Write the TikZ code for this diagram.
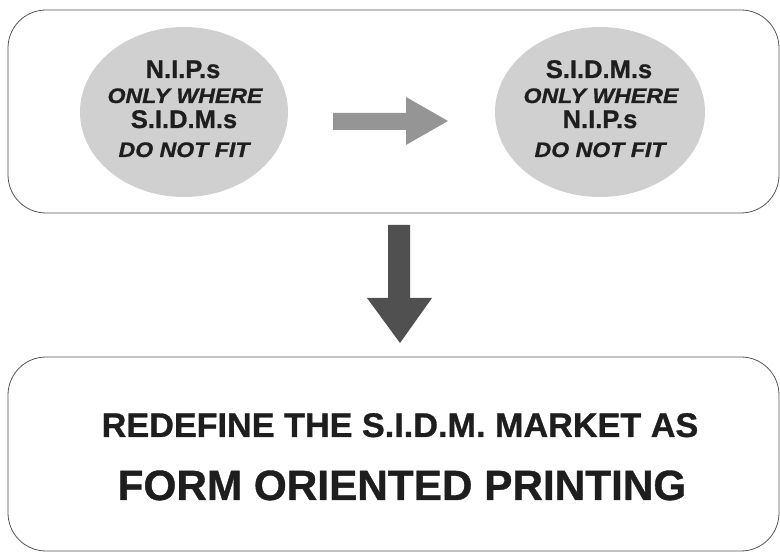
\documentclass[tikz,border=0pt]{standalone}
\usepackage{fontspec}
\setmainfont{Liberation Sans}[BoldFeatures={FakeBold=0.9},BoldItalicFeatures={FakeBold=0.9}]
\usetikzlibrary{shapes.geometric}
\definecolor{ink}{HTML}{1E1E1E}
\definecolor{frame}{HTML}{555555}
\definecolor{ellfill}{HTML}{D0D0D0}
\definecolor{harrow}{HTML}{959595}
\definecolor{varrow}{HTML}{505050}
\tikzset{
  panel/.style={draw=frame, line width=0.8pt, rounded corners=38pt},
  blob/.style={ellipse, fill=ellfill, draw=none, inner sep=0pt},
  big/.style={anchor=base, text=ink, font=\fontsize{25.5}{28}\selectfont\bfseries, inner sep=0pt},
  ital/.style={anchor=base, text=ink, xscale=1.1, font=\fontsize{21}{24}\selectfont\bfseries\itshape, inner sep=0pt},
  line1/.style={anchor=base, text=ink, font=\fontsize{34.2}{38}\selectfont\bfseries, inner sep=0pt},
  line2/.style={anchor=base, text=ink, font=\fontsize{42.3}{46}\selectfont\bfseries, inner sep=0pt},
}
\begin{document}
\begin{tikzpicture}[x=1pt,y=-1pt]
\useasboundingbox (0,0) rectangle (780,553);
% panels
\draw[panel] (8,10) rectangle (779,213);
\draw[panel] (8,357) rectangle (779,551);
% ellipses
\node[blob, minimum width=208pt, minimum height=170pt] (eL) at (184,112) {};
\node[blob, minimum width=210pt, minimum height=170pt] (eR) at (600,112) {};
% left ellipse text
\node[big]  (l1) at (183,78)  {N.I.P.s};
\node[ital] (l2) at (185,103) {ONLY WHERE};
\node[big]  (l3) at (184,128) {S.I.D.M.s};
\node[ital] (l4) at (184,157) {DO NOT FIT};
% right ellipse text
\node[big]  (r1) at (599,78)  {S.I.D.M.s};
\node[ital] (r2) at (601,103) {ONLY WHERE};
\node[big]  (r3) at (600,128) {N.I.P.s};
\node[ital] (r4) at (600,157) {DO NOT FIT};
% horizontal arrow
\fill[harrow] (333,113) -- (406,113) -- (406,97) -- (448,121) -- (406,145) -- (406,130) -- (333,130) -- cycle;
% vertical arrow
\fill[varrow] (388,225) -- (410,225) -- (410,298) -- (432,298) -- (400,343) -- (367,298) -- (388,298) -- cycle;
% bottom text
\node[line1] (b1) at (400,437) {REDEFINE THE S.I.D.M. MARKET AS};
\node[line2] (b2) at (402,500) {FORM ORIENTED PRINTING};
\end{tikzpicture}
\end{document}
